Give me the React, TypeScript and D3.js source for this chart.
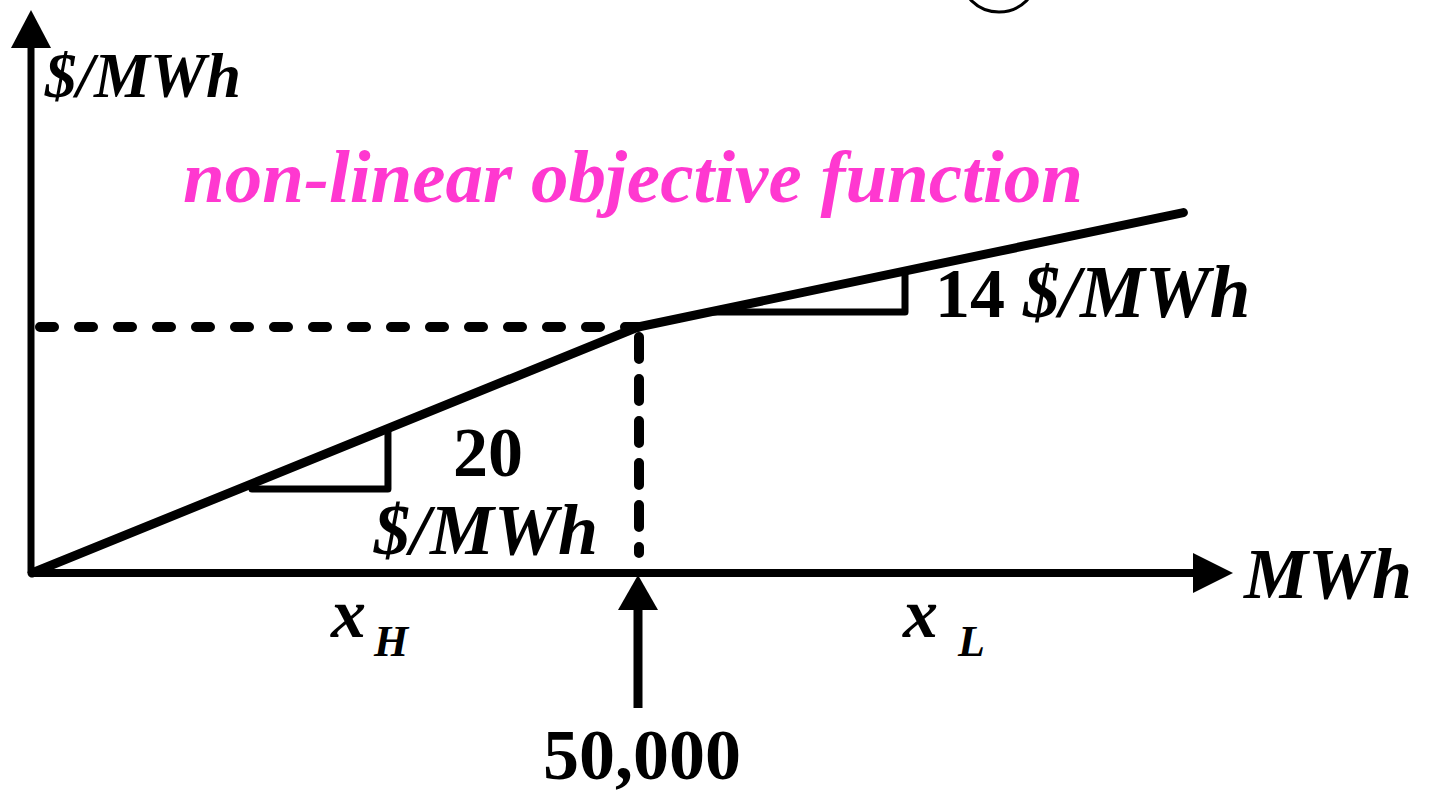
import React from "react";
import * as d3 from "d3";

// Piecewise-linear cost curve: energy (MWh) vs. cost (k$)
const energyBreaks = [0, 50000, 95000];
const costBreaks = [0, 1000, 1465];

// Slope indicator triangles: [start MWh, corner MWh, base cost k$]
const slopeTriangles = [
  { x0: 18150, x1: 29370, base: 341 },
  { x0: 55900, x1: 72030, base: 1061 },
];

const slopeLabels = ["20", "14"];
const unitLabel = "$/MWh";
const axisLabelX = "MWh";
const curveTitle = "non-linear objective function";
const breakLabel = "50,000";
const segmentNames = [
  { sym: "x", sub: "H" },
  { sym: "x", sub: "L" },
];

const W = 1429;
const H = 795;

export default function App() {
  const x = d3.scaleLinear().domain([0, 50000]).range([32, 638]);
  const y = d3.scaleLinear().domain([0, 1000]).range([573, 327]);

  const costAt = d3.scaleLinear().domain(energyBreaks).range(costBreaks);

  const pts: [number, number][] = energyBreaks.map((e, i) => [e, costBreaks[i]]);
  const line = d3
    .line<[number, number]>()
    .x((d) => x(d[0]))
    .y((d) => y(d[1]));

  const x0 = x(0);
  const y0 = y(0);
  const kx = x(energyBreaks[1]);
  const ky = y(costBreaks[1]);

  const serif = "'Liberation Serif', 'Times New Roman', serif";

  return (
    <svg
      width={W}
      height={H}
      style={{ position: "absolute", left: 0, top: 0, background: "#fff" }}
    >
      {/* partial circle at the top edge */}
      <circle cx={999} cy={-27} r={39} fill="none" stroke="#000" strokeWidth={3} />

      {/* dashed guides to the breakpoint */}
      <line
        x1={x0}
        y1={ky}
        x2={kx}
        y2={ky}
        stroke="#000"
        strokeWidth={10}
        strokeLinecap="round"
        strokeDasharray="14 25"
        strokeDashoffset={-8}
      />
      <line
        x1={kx + 1}
        y1={ky + 10}
        x2={kx + 1}
        y2={y0 - 20}
        stroke="#000"
        strokeWidth={10}
        strokeLinecap="round"
        strokeDasharray="22 20"
      />

      {/* y axis */}
      <line x1={x0 - 1} y1={y0} x2={x0 - 1} y2={45} stroke="#000" strokeWidth={7} />
      <path d={`M${x0 - 1},10 L${x0 - 21},48 L${x0 + 19},48 Z`} fill="#000" />

      {/* x axis */}
      <line x1={x0} y1={y0} x2={1196} y2={y0} stroke="#000" strokeWidth={8} />
      <path d={`M1233,${y0} L1193,${y0 - 20} L1193,${y0 + 20} Z`} fill="#000" />

      {/* breakpoint marker arrow */}
      <path d={`M${kx},${y0 + 2} L${kx - 20},610 L${kx + 20},610 Z`} fill="#000" />
      <line x1={kx} y1={606} x2={kx} y2={708} stroke="#000" strokeWidth={9} />

      {/* slope triangles */}
      {slopeTriangles.map((t, i) => (
        <path
          key={i}
          d={`M${x(t.x0)},${y(t.base)} L${x(t.x1)},${y(t.base)} L${x(t.x1)},${y(costAt(t.x1))}`}
          fill="none"
          stroke="#000"
          strokeWidth={7}
          strokeLinejoin="round"
          strokeLinecap="round"
        />
      ))}

      {/* cost curve */}
      <path
        d={line(pts) || ""}
        fill="none"
        stroke="#000"
        strokeWidth={9}
        strokeLinecap="round"
        strokeLinejoin="round"
      />

      <g fontFamily={serif} fontWeight="bold" fill="#000">
        <text x={45} y={97} fontSize={63} fontStyle="italic">
          {unitLabel}
        </text>
        <text x={183} y={202} fontSize={75} fontStyle="italic" fill="#ff38d0">
          {curveTitle}
        </text>
        <text x={935} y={317} fontSize={70}>
          {slopeLabels[1]}
          <tspan fontStyle="italic" fontSize={73}>
            {" " + unitLabel}
          </tspan>
        </text>
        <text x={453} y={476} fontSize={70}>
          {slopeLabels[0]}
        </text>
        <text x={374} y={554} fontSize={72} fontStyle="italic">
          {unitLabel}
        </text>
        <text x={1244} y={598} fontSize={72} fontStyle="italic">
          {axisLabelX}
        </text>
        {segmentNames.map((s, i) => (
          <g key={i} fontStyle="italic">
            <text x={i === 0 ? 331 : 903} y={637} fontSize={70}>
              {s.sym}
            </text>
            <text x={i === 0 ? 374 : 958} y={656} fontSize={44}>
              {s.sub}
            </text>
          </g>
        ))}
        <text x={543} y={779} fontSize={72}>
          {breakLabel}
        </text>
      </g>
    </svg>
  );
}
